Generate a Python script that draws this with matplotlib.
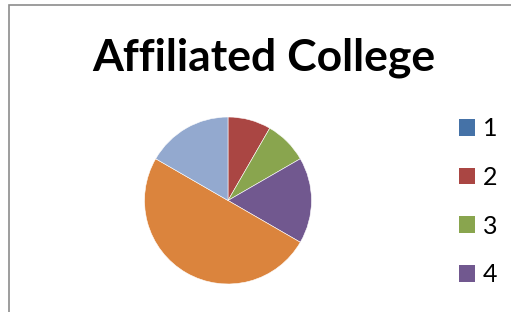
import matplotlib
matplotlib.use("Agg")
import matplotlib.pyplot as plt
from matplotlib.patches import Rectangle, Patch

title = "Affiliated College"
categories = ["1", "2", "3", "4", "5", "6"]
values = [0, 1, 1, 2, 6, 2]
colors = ["#4572A7", "#AA4643", "#89A54E", "#71588F", "#DB843D", "#93A9CF"]
legend_shown = 4  # the reference legend only has room for the first four entries

W, H = 511, 312
fig = plt.figure(figsize=(W / 100, H / 100), dpi=100)
fig.patch.set_facecolor("white")

# chart frame (cut off at right and bottom)
fig.patches.append(Rectangle((9 / W, -0.1), 1.2, 1 - 5 / H + 0.1, transform=fig.transFigure,
                             fill=False, edgecolor="#8c8c8c", linewidth=1.2))

fig.text(264 / W, 1 - 71 / H, title, ha="center", va="baseline",
         fontsize=32, fontweight="bold", family=["Lato", "DejaVu Sans"])

cx, cy, r = 228, 200.5, 83.5
ax = fig.add_axes([(cx - r) / W, (H - cy - r) / H, 2 * r / W, 2 * r / H])
ax.pie(values, colors=colors, startangle=90, counterclock=False, radius=1,
       wedgeprops=dict(edgecolor="white", linewidth=0.4))
ax.set_xlim(-1, 1)
ax.set_ylim(-1, 1)
ax.set_aspect("auto")
ax.axis("off")

handles = [Patch(facecolor=c, edgecolor="none") for c in colors[:legend_shown]]
leg = fig.legend(handles, categories[:legend_shown], loc="upper left",
                 bbox_to_anchor=(459 / W, 1 - 117 / H), frameon=False,
                 prop=dict(family=["Lato", "DejaVu Sans"], size=18),
                 handlelength=0.65, handleheight=0.65, handletextpad=0.3,
                 labelspacing=1.03, borderpad=0, borderaxespad=0)

fig.savefig("out.png", dpi=100)
